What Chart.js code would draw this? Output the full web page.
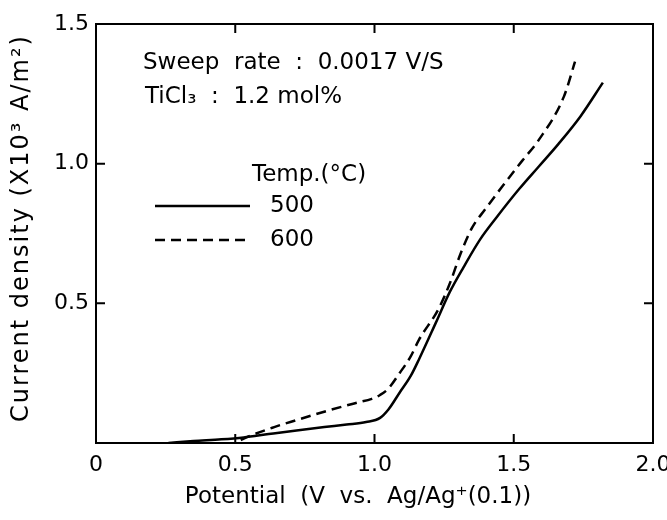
<!DOCTYPE html>
<html>
<head>
<meta charset="utf-8">
<script src="https://cdn.jsdelivr.net/npm/chart.js@4"></script>
<style>
  html, body { margin: 0; padding: 0; background: #fff; }
  #wrap { width: 667px; height: 520px; }
</style>
</head>
<body>
<div id="wrap"><canvas id="mycanvas" width="667" height="520"></canvas></div>
<script>
// values
var potential500 = [0.26, 0.35, 0.45, 0.53, 0.62, 0.72, 0.82, 0.90, 0.97, 1.02, 1.05, 1.09, 1.13, 1.16, 1.22, 1.27, 1.32, 1.38, 1.44, 1.52, 1.59, 1.66, 1.74, 1.82];
var current500   = [0.0, 0.007, 0.013, 0.02, 0.032, 0.045, 0.057, 0.066, 0.075, 0.09, 0.12, 0.18, 0.24, 0.30, 0.43, 0.54, 0.63, 0.73, 0.81, 0.91, 0.99, 1.07, 1.17, 1.29];

var potential600 = [0.52, 0.54, 0.64, 0.72, 0.84, 0.94, 0.99, 1.02, 1.05, 1.09, 1.13, 1.16, 1.23, 1.27, 1.31, 1.35, 1.40, 1.46, 1.53, 1.59, 1.68, 1.72];
var current600   = [0.01, 0.02, 0.057, 0.082, 0.118, 0.145, 0.158, 0.172, 0.195, 0.25, 0.31, 0.37, 0.48, 0.57, 0.68, 0.77, 0.84, 0.92, 1.01, 1.085, 1.24, 1.365];

var xTickValues = [0, 0.5, 1.0, 1.5, 2.0];
var xTickLabels = ['0', '0.5', '1.0', '1.5', '2.0'];
var yTickValues = [0.5, 1.0, 1.5];
var yTickLabels = ['0.5', '1.0', '1.5'];
var tempLabels  = ['500', '600'];

var FONT = "'DejaVu Sans', sans-serif";

function toPoints(xs, ys) {
    var pts = [];
    for (var i = 0; i < xs.length; i++) {
        pts.push({x: xs[i], y: ys[i]});
    }
    return pts;
}

// frame on four sides with ticks pointing inward, plus the free texts
var framePlugin = {
    id: 'frame',
    afterDraw: function (chart) {
        var ctx = chart.ctx;
        var a = chart.chartArea;
        var xs = chart.scales.x, ys = chart.scales.y;
        ctx.save();
        ctx.strokeStyle = '#000';
        ctx.lineWidth = 2;
        ctx.strokeRect(a.left, a.top, a.right - a.left, a.bottom - a.top);
        var len = 9;
        ctx.beginPath();
        xTickValues.forEach(function (v) {
            var px = xs.getPixelForValue(v);
            if (v <= xs.min || v >= xs.max) return;
            ctx.moveTo(px, a.bottom); ctx.lineTo(px, a.bottom - len);
            ctx.moveTo(px, a.top); ctx.lineTo(px, a.top + len);
        });
        yTickValues.forEach(function (v) {
            var py = ys.getPixelForValue(v);
            if (v <= ys.min || v >= ys.max) return;
            ctx.moveTo(a.left, py); ctx.lineTo(a.left + len, py);
            ctx.moveTo(a.right, py); ctx.lineTo(a.right - len, py);
        });
        ctx.stroke();

        // notes
        ctx.fillStyle = '#000';
        ctx.textBaseline = 'middle';
        ctx.textAlign = 'left';
        ctx.font = '23px ' + FONT;
        ctx.fillText('Sweep  rate  :  0.0017 V/S', 143, 63);
        ctx.fillText('TiCl\u2083  :  1.2 mol%', 145, 97);

        // legend
        ctx.fillText('Temp.(\u00B0C)', 252, 175);
        var rows = [206, 240];
        chart.data.datasets.forEach(function (ds, i) {
            ctx.save();
            ctx.strokeStyle = ds.borderColor;
            ctx.lineWidth = ds.borderWidth;
            ctx.setLineDash(ds.borderDash || []);
            ctx.beginPath();
            ctx.moveTo(155, rows[i]);
            ctx.lineTo(250, rows[i]);
            ctx.stroke();
            ctx.restore();
            ctx.fillText(tempLabels[i], 270, rows[i]);
        });

        // axis titles
        ctx.textAlign = 'center';
        ctx.fillText('Potential  (V  vs.  Ag/Ag\u207A(0.1))', 358, 497);
        ctx.translate(22, 228);
        ctx.rotate(-Math.PI / 2);
        ctx.font = '24px ' + FONT;
        ctx.letterSpacing = '2px';
        ctx.fillText('Current density (X10\u00B3 A/m\u00B2)', 0, 0);
        ctx.restore();
    }
};

var ctx = document.getElementById('mycanvas');
var chart = new Chart(ctx, {
    type: 'line',
    data: {
        datasets: [
            {
                label: tempLabels[0],
                data: toPoints(potential500, current500),
                borderColor: '#000',
                borderWidth: 2.5,
                pointRadius: 0,
                fill: false,
                cubicInterpolationMode: 'monotone'
            },
            {
                label: tempLabels[1],
                data: toPoints(potential600, current600),
                borderColor: '#000',
                borderWidth: 2.5,
                borderDash: [10, 6],
                pointRadius: 0,
                fill: false,
                cubicInterpolationMode: 'monotone'
            }
        ]
    },
    options: {
        responsive: false,
        animation: false,
        layout: { padding: { left: 0, right: 14, top: 24, bottom: 0 } },
        plugins: {
            legend: { display: false },
            tooltip: { enabled: false }
        },
        scales: {
            x: {
                type: 'linear',
                min: 0,
                max: 2,
                grid: { display: false, drawTicks: false },
                border: { display: false },
                afterBuildTicks: function (scale) {
                    scale.ticks = xTickValues.map(function (v) { return {value: v}; });
                },
                ticks: {
                    padding: 9,
                    color: '#000',
                    font: { family: FONT, size: 22 },
                    maxRotation: 0,
                    callback: function (value) {
                        return xTickLabels[xTickValues.indexOf(value)];
                    }
                },
                afterFit: function (scale) {
                    scale.height = 77;
                    scale.paddingLeft = 0;
                    scale.paddingRight = 0;
                }
            },
            y: {
                type: 'linear',
                min: 0,
                max: 1.5,
                grid: { display: false, drawTicks: false },
                border: { display: false },
                afterBuildTicks: function (scale) {
                    scale.ticks = yTickValues.map(function (v) { return {value: v}; });
                },
                ticks: {
                    padding: 7,
                    color: '#000',
                    font: { family: FONT, size: 22 },
                    callback: function (value) {
                        return yTickLabels[yTickValues.indexOf(value)];
                    }
                },
                afterFit: function (scale) {
                    scale.width = 96;
                    scale.paddingTop = 0;
                    scale.paddingBottom = 0;
                }
            }
        }
    },
    plugins: [framePlugin]
});
</script>
</body>
</html>
